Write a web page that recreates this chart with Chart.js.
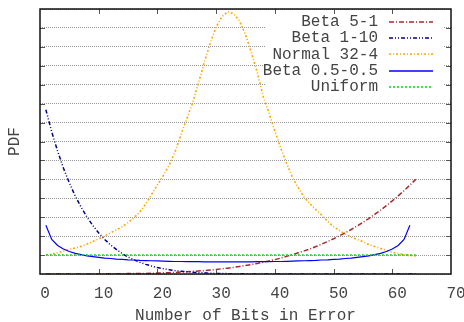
<!DOCTYPE html>
<html>
<head>
<meta charset="utf-8">
<script src="https://cdn.jsdelivr.net/npm/chart.js"></script>
<style>
  html, body { margin: 0; padding: 0; background: #fff; }
</style>
</head>
<body>
<canvas id="grafico" width="464" height="322"></canvas>
<script>
// datos (x = bits en error, y = PDF)
const bits = [1,2,3,4,5,6,7,8,9,10,11,12,13,14,15,16,17,18,19,20,21,22,23,24,25,26,27,28,29,30,31,32,
  33,34,35,36,37,38,39,40,41,42,43,44,45,46,47,48,49,50,51,52,53,54,55,56,57,58,59,60,61,62,63,64];

const beta51 = [0,0,0,0,0,0,0,0,0,0,0,0.01,0.01,0.01,0.02,0.02,0.02,0.03,0.04,0.05,0.06,0.07,0.08,0.10,0.12,0.14,0.16,0.18,0.21,0.24,0.28,0.31,
  0.35,0.40,0.45,0.50,0.56,0.62,0.69,0.76,0.84,0.93,1.02,1.12,1.22,1.33,1.45,1.58,1.72,1.86,2.02,2.18,2.35,2.53,2.73,2.93,3.15,3.37,3.61,3.86,4.13,4.40,4.70,5.00];

const beta110 = [8.68,7.51,6.49,5.59,4.81,4.12,3.53,3.01,2.56,2.17,1.83,1.54,1.30,1.08,0.90,0.75,0.62,0.51,0.42,0.34,0.28,0.23,0.18,0.15,0.12,0.09,0.07,0.06,0.04,0.03,0.03,0.02,
  0.01,0.01,0.01,0,0,0,0,0,0,0,0,0,0,0,0,0,0,0,0,0,0,0,0,0,0,0,0,0,0,0,0,0];

const normal324 = [1.00,1.05,1.12,1.21,1.30,1.38,1.46,1.58,1.72,1.86,2.01,2.17,2.33,2.50,2.72,2.97,3.28,3.70,4.20,4.70,5.20,5.75,6.45,7.35,8.20,9.05,10.10,11.20,12.20,13.05,13.60,13.86,
  13.75,13.35,12.65,11.70,10.65,9.40,8.50,7.55,6.65,5.85,5.10,4.55,4.05,3.70,3.40,3.10,2.78,2.50,2.30,2.10,1.95,1.83,1.70,1.56,1.45,1.35,1.25,1.15,1.08,1.02,0.98,0.95];

const beta0505 = [2.57,1.83,1.51,1.32,1.19,1.09,1.02,0.96,0.92,0.88,0.84,0.82,0.79,0.77,0.75,0.74,0.72,0.71,0.70,0.69,0.68,0.67,0.66,0.66,0.65,0.65,0.65,0.64,0.64,0.64,0.64,0.64,
  0.64,0.64,0.64,0.64,0.65,0.65,0.65,0.66,0.66,0.67,0.68,0.69,0.70,0.71,0.72,0.74,0.75,0.77,0.79,0.82,0.84,0.88,0.92,0.96,1.02,1.09,1.19,1.32,1.51,1.83,2.57];

const uniforme = [1,1,1,1,1,1,1,1,1,1,1,1,1,1,1,1,1,1,1,1,1,1,1,1,1,1,1,1,1,1,1,1,
  1,1,1,1,1,1,1,1,1,1,1,1,1,1,1,1,1,1,1,1,1,1,1,1,1,1,1,1,1,1,1,1];

const xTicks = [0,10,20,30,40,50,60,70];
const yTicks = [0,1,2,3,4,5,6,7,8,9,10,11,12,13,14];

const fuente = "'Liberation Mono', 'DejaVu Sans Mono', monospace";
const colorTexto = '#444';

const puntos = (serie) => serie.map((v, i) => ({ x: bits[i], y: v }));

const serie = (label, data, color, dash, ancho, order) => ({
  label: label,
  data: puntos(data),
  borderColor: color,
  backgroundColor: color,
  borderWidth: ancho,
  borderDash: dash,
  pointRadius: 0,
  tension: 0,
  fill: false,
  order: order
});

// leyenda estilo gnuplot, marco y marcas hacia adentro
const marcoPlugin = {
  id: 'marco',
  afterDatasetsDraw(chart) {
    const { ctx, chartArea: a } = chart;
    ctx.save();
    ctx.fillStyle = '#fff';
    ctx.fillRect(265, a.top + 1, 179, 86);
    ctx.font = '16px ' + fuente;
    ctx.textAlign = 'right';
    ctx.textBaseline = 'middle';
    chart.data.datasets.forEach((ds, i) => {
      const yy = 22 + i * 16.2;
      ctx.fillStyle = colorTexto;
      ctx.fillText(ds.label, 378, yy);
      ctx.strokeStyle = ds.borderColor;
      ctx.lineWidth = 1.5;
      ctx.setLineDash(ds.borderDash || []);
      ctx.beginPath();
      ctx.moveTo(389, Math.round(yy));
      ctx.lineTo(433, Math.round(yy));
      ctx.stroke();
    });
    ctx.restore();
  },
  afterDraw(chart) {
    const { ctx, chartArea: a, scales: { x, y } } = chart;
    ctx.save();
    ctx.setLineDash([]);
    ctx.strokeStyle = '#555';
    ctx.lineWidth = 1;
    ctx.beginPath();
    xTicks.slice(1, -1).forEach(v => {
      const px = Math.round(x.getPixelForValue(v)) + 0.5;
      ctx.moveTo(px, a.bottom); ctx.lineTo(px, a.bottom - 5);
      ctx.moveTo(px, a.top); ctx.lineTo(px, a.top + 5);
    });
    yTicks.slice(1, -1).forEach(v => {
      const py = Math.round(y.getPixelForValue(v)) + 0.5;
      ctx.moveTo(a.left, py); ctx.lineTo(a.left + 5, py);
      ctx.moveTo(a.right, py); ctx.lineTo(a.right - 5, py);
    });
    ctx.stroke();
    ctx.strokeStyle = '#111';
    ctx.lineWidth = 1.5;
    ctx.strokeRect(a.left, a.top, a.right - a.left, a.bottom - a.top);
    ctx.restore();
  }
};

const grafico = new Chart(document.getElementById('grafico'), {
  type: 'line',
  data: {
    datasets: [
      serie('Beta 5-1', beta51, '#a52a2a', [5, 2, 1, 2], 1.5, 5),
      serie('Beta 1-10', beta110, '#00008b', [4, 2, 1, 2, 1, 2], 1.5, 4),
      serie('Normal 32-4', normal324, '#ffa500', [2, 2, 1, 2], 1.6, 3),
      serie('Beta 0.5-0.5', beta0505, '#0000ff', [], 1.2, 2),
      serie('Uniform', uniforme, '#00dd00', [2, 2], 1.5, 1)
    ]
  },
  options: {
    responsive: false,
    devicePixelRatio: 1,
    animation: false,
    layout: { padding: { top: 9, right: 13, left: 0, bottom: 0 } },
    plugins: { legend: { display: false }, tooltip: { enabled: false } },
    scales: {
      x: {
        type: 'linear',
        min: 0,
        max: 70,
        afterBuildTicks: s => { s.ticks = xTicks.map(v => ({ value: v })); },
        afterFit: s => { s.height = 48; },
        grid: { display: false },
        border: { display: false },
        ticks: {
          color: colorTexto,
          font: { family: fuente, size: 16 },
          padding: 2,
          labelOffset: 5,
          maxRotation: 0
        },
        title: {
          display: true,
          text: 'Number of Bits in Error',
          color: colorTexto,
          font: { family: fuente, size: 16, lineHeight: 0.8 },
          padding: { top: 0, bottom: 0 }
        }
      },
      y: {
        min: 0,
        max: 14,
        afterBuildTicks: s => { s.ticks = yTicks.map(v => ({ value: v })); },
        afterFit: s => { s.width = 40; },
        grid: { color: '#999', lineWidth: 1, drawTicks: false },
        border: { display: false, dash: [1, 1] },
        ticks: { display: false },
        title: {
          display: true,
          text: 'PDF',
          color: colorTexto,
          font: { family: fuente, size: 16, lineHeight: 1 },
          padding: { top: 7, bottom: 0 }
        }
      }
    }
  },
  plugins: [marcoPlugin]
});
</script>
</body>
</html>
